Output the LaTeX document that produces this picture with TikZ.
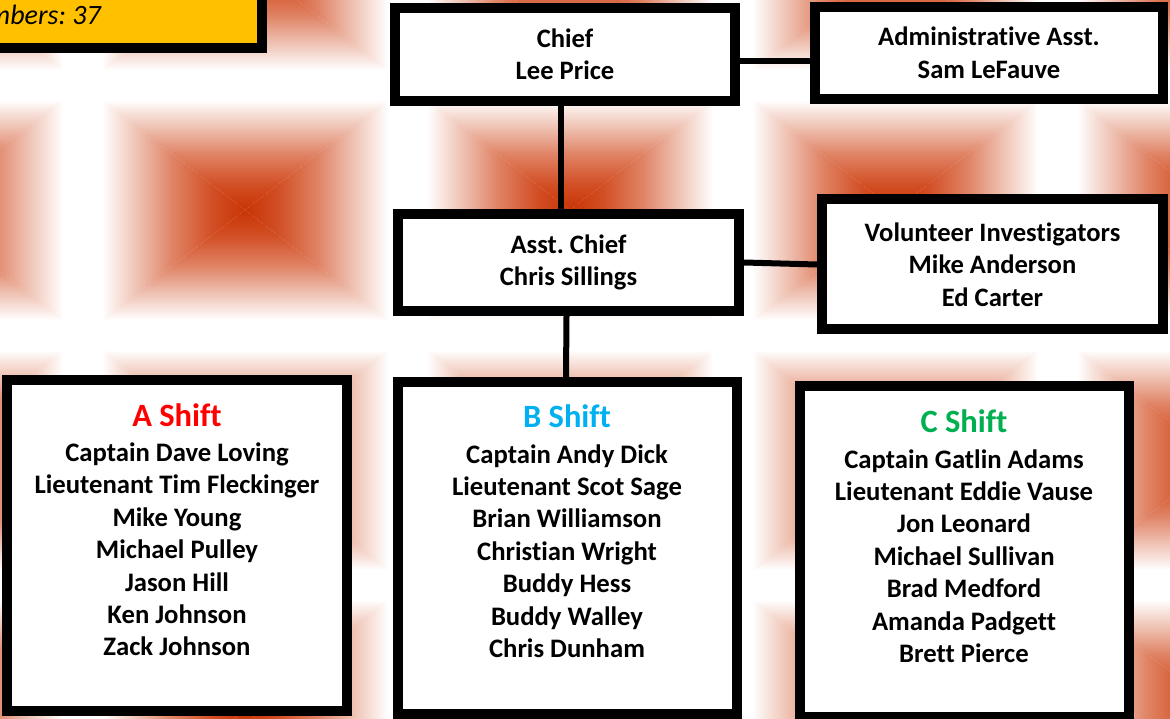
\documentclass[tikz,border=0pt]{standalone}
\usepackage{fontspec}
\setmainfont[Ligatures=NoCommon]{Carlito}
\definecolor{tilered}{RGB}{200,52,4}
\definecolor{tileA}{RGB}{210,78,36}
\definecolor{tileB}{RGB}{224,132,102}
\definecolor{tileC}{RGB}{238,190,174}
\definecolor{tileD}{RGB}{249,232,226}
\definecolor{deptgold}{RGB}{255,192,0}
\definecolor{shiftred}{RGB}{255,0,0}
\definecolor{shiftblue}{RGB}{0,176,240}
\definecolor{shiftgreen}{RGB}{0,176,80}
\usetikzlibrary{calc}

\pgfdeclareverticalshading{tilefade}{100bp}{color(0bp)=(tilered); color(25bp)=(tilered);
  color(35bp)=(tileA); color(47.5bp)=(tileB); color(57.5bp)=(tileC);
  color(65bp)=(tileD); color(69bp)=(white); color(100bp)=(white)}

\tikzset{
  orgbox/.style={draw=black,line width=10pt,fill=white,inner sep=0pt,align=center,
        font=\fontsize{26.6}{32.5}\selectfont\bfseries},
  link/.style={draw=black,line width=6pt},
  tile/.style={shading=tilefade,shading angle=#1},
  shifthead/.style={inner sep=0pt,font=\fontsize{32.5}{36}\selectfont\bfseries},
  shiftlist/.style={align=center,inner sep=0pt,font=\fontsize{26.7}{32.4}\selectfont\bfseries},
}

\begin{document}
\frenchspacing
\begin{tikzpicture}[x=1pt,y=-1pt]
  \useasboundingbox (0,0) rectangle (1170,719);

  %% background tiles
  \begin{scope}
    \clip (0,0) rectangle (1170,719);
    \fill[white] (0,0) rectangle (1170,719);
    \foreach \cx in {-80,245,570,895,1220}
      \foreach \cy in {-40,210,460,710} {
        \shade[tile=0]
          (\cx,\cy) -- (\cx-162.5,\cy-125) -- (\cx+162.5,\cy-125) -- cycle;
        \shade[tile=180]
          (\cx,\cy) -- (\cx-162.5,\cy+125) -- (\cx+162.5,\cy+125) -- cycle;
        \shade[tile=90]
          (\cx,\cy) -- (\cx-162.5,\cy-125) -- (\cx-162.5,\cy+125) -- cycle;
        \shade[tile=-90]
          (\cx,\cy) -- (\cx+162.5,\cy-125) -- (\cx+162.5,\cy+125) -- cycle;
      }
  \end{scope}

  %% member count
  \node[draw=black,line width=10pt,fill=deptgold,inner sep=0pt,
        minimum width=317pt,minimum height=83pt] (members) at (103.5,6.5) {};
  \node[anchor=base east,inner sep=0pt,font=\fontsize{28}{34}\selectfont\itshape]
        (memberstxt) at (101,25) {Total Members: 37};

  %% command staff
  \node[orgbox,minimum width=340pt,minimum height=93pt] (chief) at (565,54.5)
        {Chief\\Lee Price};
  \node[orgbox,minimum width=348pt,minimum height=92pt] (admin) at (989,53)
        {Administrative Asst.\\Sam LeFauve};
  \node[orgbox,minimum width=341pt,minimum height=97pt] (asst) at (568.5,262.5)
        {Asst. Chief\\Chris Sillings};
  \node[orgbox,minimum width=341pt,minimum height=130pt] (vol) at (992.5,264.5)
        {Volunteer Investigators\\Mike Anderson\\Ed Carter};

  %% shifts
  \node[orgbox,minimum width=340pt,minimum height=331pt] (shiftA) at (177,545.5) {};
  \node[shifthead,text=shiftred] (headA) at (177,415) {A Shift};
  \node[shiftlist] (listA) at (177,549.5)
        {Captain Dave Loving\\Lieutenant Tim Fleckinger\\Mike Young\\Michael Pulley\\
         Jason Hill\\Ken Johnson\\Zack Johnson};

  \node[orgbox,minimum width=339pt,minimum height=332pt] (shiftB) at (567.5,548) {};
  \node[shifthead,text=shiftblue] (headB) at (567,416) {B Shift};
  \node[shiftlist] (listB) at (567,551)
        {Captain Andy Dick\\Lieutenant Scot Sage\\Brian Williamson\\Christian Wright\\
         Buddy Hess\\Buddy Walley\\Chris Dunham};

  \node[orgbox,minimum width=329pt,minimum height=331pt] (shiftC) at (964.5,551.5) {};
  \node[shifthead,text=shiftgreen] (headC) at (964,421) {C Shift};
  \node[shiftlist] (listC) at (964,556)
        {Captain Gatlin Adams\\Lieutenant Eddie Vause\\Jon Leonard\\Michael Sullivan\\
         Brad Medford\\Amanda Padgett\\Brett Pierce};

  %% connectors
  \draw[link] ([yshift=-6.5pt]chief.east) -- ([yshift=-8pt]admin.west);
  \draw[link] ([xshift=-4pt]chief.south) -- ([xshift=-7.5pt]asst.north);
  \draw[link] (asst.east) -- (vol.west);
  \draw[link] ([xshift=-2pt]asst.south) -- ([xshift=-1.5pt]shiftB.north);
\end{tikzpicture}
\end{document}
